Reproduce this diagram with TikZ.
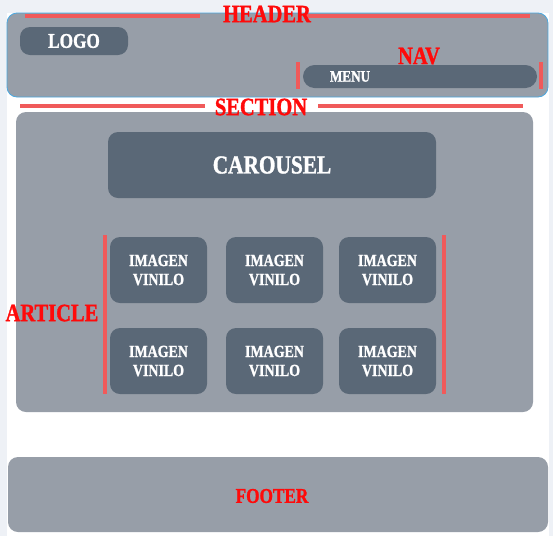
\documentclass[tikz,border=0pt]{standalone}
\usepackage{fontspec}
\setmainfont{Liberation Serif}[FakeStretch=0.82, BoldFeatures={FakeBold=1.2}]
\usetikzlibrary{positioning}
\definecolor{pagebg}{HTML}{EEF1F6}
\definecolor{boxgray}{HTML}{979EA8}
\definecolor{boxdark}{HTML}{5A6877}
\definecolor{barred}{HTML}{F05A5A}
\definecolor{tagred}{HTML}{FF0A0A}
\definecolor{hdrline}{HTML}{4AA8E0}
\tikzset{
  block/.style={fill=boxgray, rounded corners=10pt, inner sep=0pt},
  tile/.style={fill=boxdark, rounded corners=10pt, inner sep=0pt, text=white,
    font=\bfseries\fontsize{17}{19}\selectfont, align=center},
  tag/.style={text=tagred, font=\bfseries\fontsize{25}{25}\selectfont, inner sep=0pt},
  bar/.style={barred, line width=4pt},
}
\begin{document}
\begin{tikzpicture}[x=1pt,y=-1pt]
  \useasboundingbox (0,0) rectangle (553,536);
  \fill[pagebg] (0,0) rectangle (553,536);
  \fill[white] (7,13) rectangle (549,536);
  % header
  \node[block, draw=hdrline, line width=0.8pt, minimum width=541pt, minimum height=84pt] (header) at (277.5,55) {};
  \node[tile, font=\bfseries\fontsize{21}{21}\selectfont, minimum width=108pt, minimum height=28pt] (logo) at (74,41) {LOGO};
  \node[tile, rounded corners=11.5pt, minimum width=234pt, minimum height=23pt] (menu) at (420,76.5) {};
  \node[text=white, font=\bfseries\fontsize{16}{16}\selectfont, inner sep=0pt] (menutxt) at (350,76.5) {MENU};
  \draw[bar] (25,16) -- (200,16) (305,16) -- (530,16);
  \node[tag] (headertag) at (267,14) {HEADER};
  \node[tag] (navtag) at (419,56) {NAV};
  \draw[bar] (298,62) -- (298,89) (541,62) -- (541,89);
  % section
  \draw[bar] (20,106) -- (205,106) (318,106) -- (523,106);
  \node[block, minimum width=517pt, minimum height=300pt] (section) at (274.5,262) {};
  \node[tag] (sectiontag) at (261,107) {SECTION};
  \node[tile, font=\bfseries\fontsize{26}{26}\selectfont, minimum width=328pt, minimum height=66pt] (carousel) at (272,165) {CAROUSEL};
  \foreach \col/\x in {1/158.5,2/274.5,3/387.5}
    \foreach \row/\y in {1/270,2/361}
      \node[tile, minimum width=97pt, minimum height=66pt] (img\row\col) at (\x,\y) {IMAGEN\\VINILO};
  \draw[bar] (105,235) -- (105,394) (444,235) -- (444,394);
  \node[tag] (articletag) at (52,313) {ARTICLE};
  % footer
  \node[block, minimum width=540pt, minimum height=75pt] (footer) at (278,494.5) {};
  \node[tag, font=\bfseries\fontsize{21}{21}\selectfont] (footertag) at (272,496) {FOOTER};
\end{tikzpicture}
\end{document}
